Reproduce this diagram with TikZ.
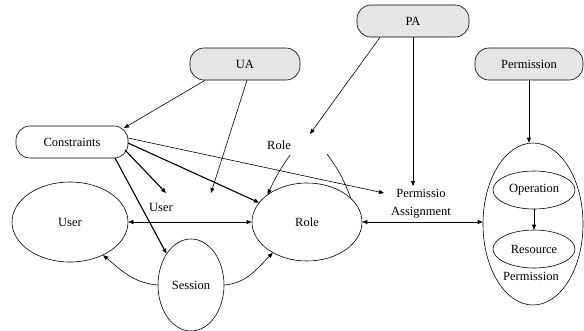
\documentclass[tikz,border=0pt]{standalone}
\usepackage{fontspec}
\setmainfont{Liberation Serif}
\usetikzlibrary{shapes.geometric,arrows.meta,calc}
\begin{document}
\begin{tikzpicture}[x=1pt,y=-1pt,
  every node/.style={font=\fontsize{12.5}{14}\selectfont},
  graybox/.style={draw,line width=0.6pt,rounded corners=14pt,fill=gray!20,minimum width=110pt,minimum height=32pt,inner sep=0pt},
  whitebox/.style={draw,line width=0.6pt,rounded corners=14pt,minimum width=112pt,minimum height=32pt,inner sep=0pt},
  ell/.style={draw,line width=0.6pt,ellipse,inner sep=0pt},
  tl/.style={line width=0.6pt},
  tk/.style={line width=1.1pt},
  arr/.style={-{Triangle[length=5pt,width=4pt]}},
  arrs/.style={{Triangle[length=5pt,width=4pt]}-{Triangle[length=5pt,width=4pt]}}
]
\useasboundingbox (0,0) rectangle (584,330);
% boxes
\node[graybox] (UA) at (245,64) {UA\hspace{26pt}};
\node[graybox,minimum width=112pt] (PA) at (413,21) {PA\hspace{30pt}};
\node[graybox,minimum width=108pt] (Perm) at (529,64) {Permission\hspace{29pt}};
\node[whitebox] (Con) at (72,142) {Constraints\hspace{6pt}};
% ellipses
\node[ell,minimum width=116pt,minimum height=80pt] (User) at (70,222) {User\hspace{6pt}};
\node[ell,minimum width=66pt,minimum height=92pt] (Ses) at (191,285) {Session\hspace{5pt}};
\node[ell,minimum width=110pt,minimum height=78pt] (Role) at (307,222) {Role\hspace{8pt}};
\node[ell,minimum width=100pt,minimum height=162pt] (PB) at (533,224) {};
\node[ell,minimum width=82pt,minimum height=38pt] (Op) at (534,190) {Operation\hspace{6pt}};
\node[ell,minimum width=82pt,minimum height=38pt] (Res) at (534,249) {Resource\hspace{6pt}};
% labels
\node (PBl) at (531,276) {Permission};
\node (UL) at (161,207) {User};
\node (RL) at (279,145) {Role};
\node[align=center,font=\fontsize{12.5}{18}\selectfont] (PAl) at (421,204) {Permissio\\Assignment};
% free ends
\coordinate (uaE) at (211,193);
\coordinate (paE) at (310,134);
\coordinate (paV) at (413,186);
\coordinate (cuE) at (166,193);
\coordinate (cpE) at (384,193);
\coordinate (rlS) at (290,155);
\coordinate (rrS) at (327,154);
% connectors
\draw[arr,tl] ($(UA.south)+(-40,0)$) -- ($(Con.center)+(52,-14)$);
\draw[arr,tl] ($(UA.south)+(2,0)$) -- (uaE);
\draw[arr,tl] ($(PA.south)+(-33,0)$) -- (paE);
\draw[arr,tl] (PA.south) -- (paV);
\draw[arr,tl] (Perm.south) -- (Perm.south |- PB.north);
\draw[arr,tl] ($(Con.center)+(56,-4)$) -- (cpE);
\draw[arr,tk] ($(Con.center)+(56,1)$) -- (Role.158);
\draw[arr,tk] ($(Con.center)+(53,8)$) -- (cuE);
\draw[arr,tk] ($(Con.center)+(43,16)$) -- (Ses.128);
\draw[arrs,tl] (User.east) -- (Role.west);
\draw[arrs,tl] (Role.east) -- (Role.east -| PB.west);
\draw[arr,tl] (Ses.west) to[out=175,in=-40] (User.-45);
\draw[arr,tl] (Ses.east) to[out=5,in=-135] (Role.222);
\draw[arr,tl] (rlS) to[bend right=5] (Role.145);
\draw[tl] (rrS) to[bend left=8] (Role.29);
\draw[arr,tl] (Op.south) -- (Res.north);
\end{tikzpicture}
\end{document}
